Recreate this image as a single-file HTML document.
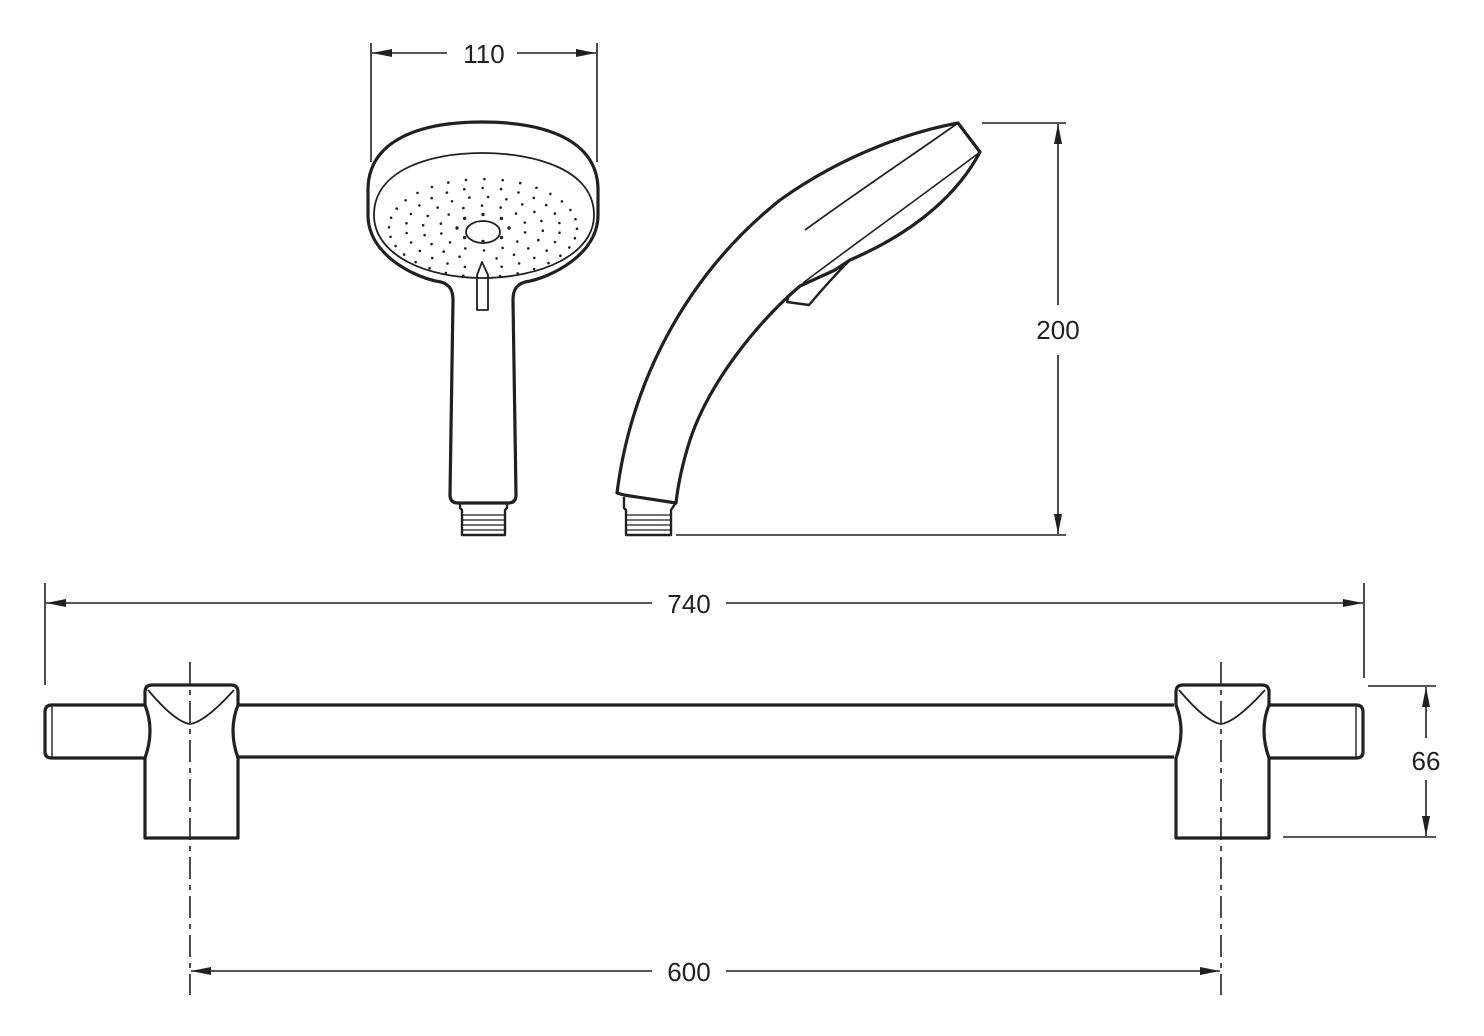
<!DOCTYPE html>
<html><head><meta charset="utf-8"><style>
html,body{margin:0;padding:0;background:#fff;}
svg{display:block;}
text{font-family:"Liberation Sans",Arial,sans-serif;font-size:26px;fill:#231f20;}
</style></head><body>
<svg id="s" width="1484" height="1036" viewBox="0 0 1484 1036" xmlns="http://www.w3.org/2000/svg">
<defs>
<marker id="a" viewBox="0 0 20 8" refX="20" refY="4" markerWidth="20" markerHeight="8" markerUnits="userSpaceOnUse" orient="auto-start-reverse"><path d="M0,0 L20,4 L0,8 Z" fill="#231f20"/></marker>
</defs>
<g stroke="#231f20" fill="none" stroke-width="1.6">
<line x1="371" y1="43" x2="371" y2="162"/>
<line x1="597" y1="43" x2="597" y2="162"/>
<line x1="372" y1="53" x2="447" y2="53" marker-start="url(#a)"/>
<line x1="517" y1="53" x2="596" y2="53" marker-end="url(#a)"/>
<line x1="982" y1="123" x2="1066" y2="123"/>
<line x1="676" y1="535" x2="1066" y2="535"/>
<line x1="1058" y1="124" x2="1058" y2="305" marker-start="url(#a)"/>
<line x1="1058" y1="355" x2="1058" y2="534" marker-end="url(#a)"/>
<line x1="45" y1="583" x2="45" y2="685"/>
<line x1="1364" y1="583" x2="1364" y2="678"/>
<line x1="46" y1="603" x2="652" y2="603" marker-start="url(#a)"/>
<line x1="726" y1="603" x2="1363" y2="603" marker-end="url(#a)"/>
<line x1="1368" y1="686" x2="1436" y2="686"/>
<line x1="1283" y1="837" x2="1436" y2="837"/>
<line x1="1426" y1="687" x2="1426" y2="738" marker-start="url(#a)"/>
<line x1="1426" y1="780" x2="1426" y2="836" marker-end="url(#a)"/>
<line x1="191" y1="971" x2="652" y2="971" marker-start="url(#a)"/>
<line x1="726" y1="971" x2="1220" y2="971" marker-end="url(#a)"/>
<line x1="190" y1="662" x2="190" y2="995" stroke-dasharray="22,6,5,6"/>
<line x1="1221" y1="662" x2="1221" y2="995" stroke-dasharray="22,6,5,6"/>
</g>
<text x="484" y="63" text-anchor="middle">110</text>
<text x="1058" y="339" text-anchor="middle">200</text>
<text x="689" y="613" text-anchor="middle">740</text>
<text x="1426" y="770" text-anchor="middle">66</text>
<text x="689" y="981" text-anchor="middle">600</text>

<g stroke="#231f20" fill="none" stroke-width="3.2" stroke-linejoin="round">
<line x1="238" y1="705" x2="1174" y2="705"/>
<line x1="238" y1="757" x2="1174" y2="757"/>
<path d="M145,705 L52,705 Q45,705 45,712 L45,752 Q45,758 52,758 L145,758"/>
<line x1="52" y1="706" x2="52" y2="757" stroke-width="1.4"/>
<path d="M1268,705 L1356,705 Q1363,705 1363,712 L1363,752 Q1363,758 1356,758 L1268,758"/>
<line x1="1356" y1="706" x2="1356" y2="757" stroke-width="1.4"/>
<path d="M145,758 L145,838 L238,838 L238,758 Q228,730 238,705 L238,692 Q238,685 231,685 L152,685 Q145,685 145,692 L145,705 Q155,730 145,758 Z"/>
<path d="M148,690 Q175,722 190,724 Q205,722 234,690" stroke-width="1.8"/>
<path d="M1176,758 L1176,838 L1269,838 L1269,758 Q1259,730 1269,705 L1269,692 Q1269,685 1262,685 L1183,685 Q1176,685 1176,692 L1176,705 Q1186,730 1176,758 Z"/>
<path d="M1179,690 Q1206,722 1221,724 Q1236,722 1265,690" stroke-width="1.8"/>

<path d="M368,190 C368,140 420,122 482,122 C545,122 598,140 598,190 L598,215 C598,255 550,278 525,282 C515,285 513,292 513,300 L516,495 Q516,503 508,503 L458,503 Q450,503 450,495 L453,300 C453,292 451,285 441,282 C415,278 368,255 368,215 Z"/>
<path d="M374,215 C374,170 430,153 482,153 C536,153 594,170 594,215 C594,255 540,278 482,278 C426,278 374,255 374,215 Z" stroke-width="1.8"/>
<ellipse cx="483" cy="232" rx="17" ry="11" stroke-width="1.8"/>
<path d="M477,310 L477,275 L482,262 L488,275 L488,310 Z" stroke-width="1.8"/>
<path d="M460,503 L460,508 L462,510 L462,535 L505,535 L505,510 L507,508 L507,503" stroke-width="2.4"/>
<g stroke-width="1.2"><line x1="463" y1="515" x2="504" y2="515"/><line x1="463" y1="520" x2="504" y2="520"/><line x1="463" y1="525" x2="504" y2="525"/><line x1="463" y1="530" x2="504" y2="530"/></g>

<path d="M617,493 C630,390 680,280 780,200 C850,150 920,130 958,123 L980,152 C960,190 920,230 850,260 L835,270 L800,286 C760,320 710,380 690,440 C682,465 678,485 676,503 L624,495 Z"/>
<path d="M805,230 C860,190 920,150 958,123" stroke-width="1.8"/>
<path d="M803,283 C860,240 930,190 980,152" stroke-width="1.6"/>
<path d="M800,286 L788,297 L787,302 L809,305 Q830,280 849,261" stroke-width="2.4"/>
<path d="M624,497 L624,508 L626,510 L626,535 L671,535 L671,510 L675,504" stroke-width="2.4"/>
<g stroke-width="1.2"><line x1="627" y1="515" x2="670" y2="515"/><line x1="627" y1="520" x2="670" y2="520"/><line x1="627" y1="525" x2="670" y2="525"/><line x1="627" y1="530" x2="670" y2="530"/></g>
</g>
<g id="dots" fill="#231f20"></g>
</svg>
<script>
var g=document.getElementById('dots'),cx=483,cy=228,ns='http://www.w3.org/2000/svg';
var rings=[[26,8],[43,14],[60,20],[77,26],[94,32]];
rings.forEach(function(r,i){for(var k=0;k<r[1];k++){var t=k/r[1]*2*Math.PI+i*0.2;var x=cx+r[0]*Math.cos(t),y=cy+r[0]*0.52*Math.sin(t);
if(y>258&&Math.abs(x-cx)<10)continue;var c=document.createElementNS(ns,'circle');c.setAttribute('cx',x.toFixed(1));c.setAttribute('cy',y.toFixed(1));c.setAttribute('r',i==0?1.7:1.3);g.appendChild(c);}});
</script>
</body></html>
